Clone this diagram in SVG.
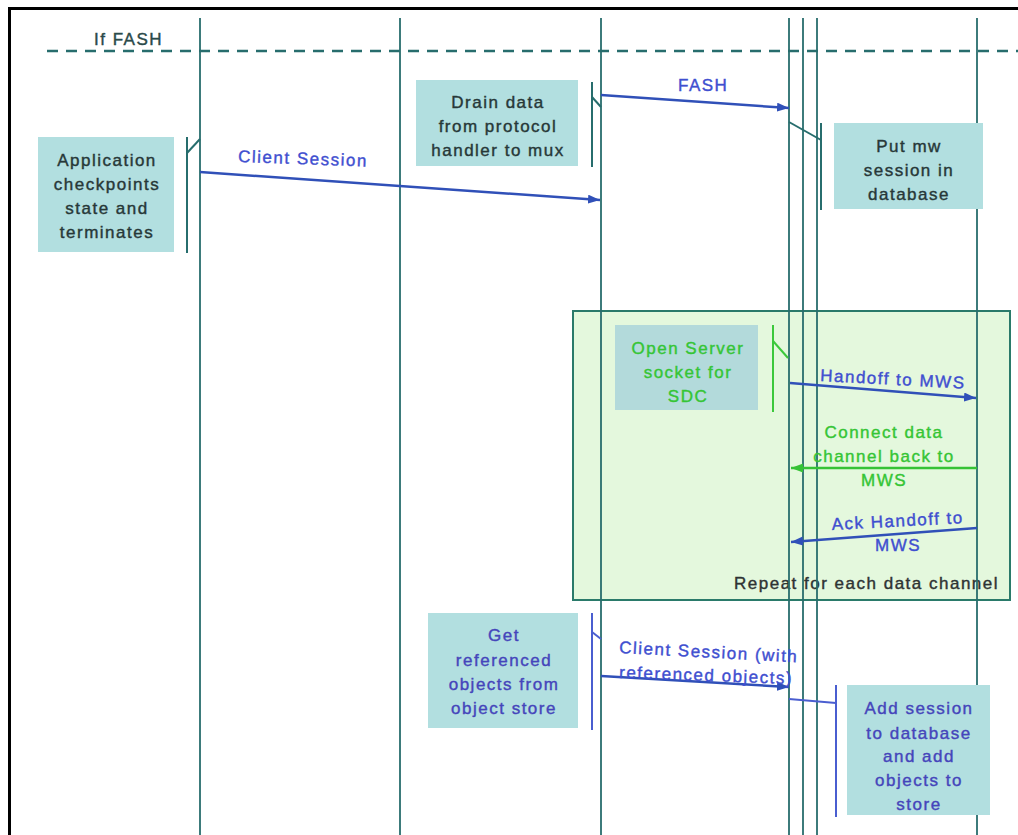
<svg xmlns="http://www.w3.org/2000/svg" width="1018" height="835" viewBox="0 0 1018 835">
  <style>
    .life { stroke: #276d6d; stroke-width: 1.8; fill: none; }
    .frame { stroke: #000; stroke-width: 3; fill: none; }
    .guard { stroke: #276d6d; stroke-width: 2.5; stroke-dasharray: 11 8; fill: none; }
    .box { fill: #b2dfe0; }
    .bar { stroke: #276d6d; stroke-width: 2; fill: none; }
    .bar-blue { stroke: #4a5ed0; stroke-width: 2; fill: none; }
    .bar-green { stroke: #3cc83c; stroke-width: 2; fill: none; }
    .msg { stroke: #3050b8; stroke-width: 2.5; fill: none; }
    .msg-green { stroke: #36c236; stroke-width: 2.5; fill: none; }
    text { font-family: "Liberation Sans", Arial, sans-serif; font-size: 17px; letter-spacing: 1.5px; stroke-width: 0.4; }
    .t-dark { fill: #273838; stroke: #273838; text-anchor: middle; }
    .t-blue { fill: #4545bb; stroke: #4545bb; text-anchor: middle; }
    .t-green { fill: #35c535; stroke: #35c535; text-anchor: middle; }
    .lbl { fill: #3f4fd0; stroke: #3f4fd0; }
  </style>
  <defs>
    <marker id="head" markerUnits="userSpaceOnUse" markerWidth="13" markerHeight="10" refX="12" refY="4.5" orient="auto">
      <path d="M0,0 L12,4.5 L0,9 z" fill="#3050b8"/>
    </marker>
    <marker id="head-green" markerUnits="userSpaceOnUse" markerWidth="13" markerHeight="10" refX="12" refY="4.5" orient="auto">
      <path d="M0,0 L12,4.5 L0,9 z" fill="#36c236"/>
    </marker>
  </defs>

  <rect width="1018" height="835" fill="#fff"/>

  <!-- outer page frame (top and left edges only fall inside the view) -->
  <path class="frame" d="M9.5,840 V8.5 H1020"/>

  <!-- repeat region -->
  <g id="repeat-loop">
    <rect x="573" y="311" width="437" height="289" fill="#e4f8dd" stroke="#2a7a6a" stroke-width="2"/>
    <text x="734" y="589" fill="#2e3333" stroke="#2e3333">Repeat for each data channel</text>
  </g>

  <!-- lifelines -->
  <g id="lifelines">
    <line class="life" x1="200" y1="18" x2="200" y2="835"/>
    <line class="life" x1="400" y1="18" x2="400" y2="835"/>
    <line class="life" x1="601" y1="18" x2="601" y2="835"/>
    <line class="life" x1="789" y1="18" x2="789" y2="835"/>
    <line class="life" x1="803" y1="18" x2="803" y2="835"/>
    <line class="life" x1="817" y1="18" x2="817" y2="835"/>
    <line class="life" x1="977" y1="18" x2="977" y2="835"/>
  </g>

  <!-- condition guard -->
  <g id="guard">
    <line class="guard" x1="47" y1="51" x2="1018" y2="51"/>
    <text x="94" y="45" fill="#2a4a4a" stroke="#2a4a4a">If FASH</text>
  </g>

  <!-- notes -->
  <g id="note-app">
    <rect class="box" x="38" y="137" width="136" height="115"/>
    <line class="bar" x1="187" y1="137" x2="187" y2="253"/>
    <line class="bar" x1="187" y1="153" x2="200" y2="139"/>
    <text class="t-dark" x="107" y="166">Application</text>
    <text class="t-dark" x="107" y="190">checkpoints</text>
    <text class="t-dark" x="107" y="214">state and</text>
    <text class="t-dark" x="107" y="238">terminates</text>
  </g>

  <g id="note-drain">
    <rect class="box" x="416" y="80" width="162" height="86"/>
    <line class="bar" x1="592" y1="82" x2="592" y2="167"/>
    <line class="bar" x1="592" y1="97" x2="601" y2="107"/>
    <text class="t-dark" x="498" y="108">Drain data</text>
    <text class="t-dark" x="498" y="132">from protocol</text>
    <text class="t-dark" x="498" y="156">handler to mux</text>
  </g>

  <g id="note-putmw">
    <rect class="box" x="834" y="123" width="149" height="86"/>
    <line class="bar" x1="821" y1="123" x2="821" y2="210"/>
    <line class="bar" x1="789" y1="122" x2="821" y2="140"/>
    <text class="t-dark" x="909" y="152">Put mw</text>
    <text class="t-dark" x="909" y="176">session in</text>
    <text class="t-dark" x="909" y="200">database</text>
  </g>

  <g id="note-open">
    <rect x="615" y="325" width="143" height="85" fill="#b3dadb"/>
    <line class="bar-green" x1="773" y1="325" x2="773" y2="412"/>
    <line class="bar-green" x1="773" y1="341" x2="788" y2="358"/>
    <text class="t-green" x="688" y="354">Open Server</text>
    <text class="t-green" x="688" y="378">socket for</text>
    <text class="t-green" x="688" y="402">SDC</text>
  </g>

  <g id="note-get">
    <rect class="box" x="428" y="613" width="150" height="115"/>
    <line class="bar-blue" x1="592" y1="613" x2="592" y2="730"/>
    <line class="bar-blue" x1="592" y1="632" x2="601" y2="639"/>
    <text class="t-blue" x="504" y="641">Get</text>
    <text class="t-blue" x="504" y="666">referenced</text>
    <text class="t-blue" x="504" y="690">objects from</text>
    <text class="t-blue" x="504" y="714">object store</text>
  </g>

  <g id="note-add">
    <rect class="box" x="847" y="685" width="143" height="130"/>
    <line class="bar-blue" x1="836" y1="685" x2="836" y2="817"/>
    <line class="bar-blue" x1="789" y1="699" x2="836" y2="703"/>
    <text class="t-blue" x="919" y="714">Add session</text>
    <text class="t-blue" x="919" y="739">to database</text>
    <text class="t-blue" x="919" y="762">and add</text>
    <text class="t-blue" x="919" y="786">objects to</text>
    <text class="t-blue" x="919" y="810">store</text>
  </g>

  <!-- messages -->
  <g id="messages">
    <line class="msg" x1="200" y1="172" x2="600" y2="200" marker-end="url(#head)"/>
    <text class="lbl" x="238" y="162" transform="rotate(2 238 162)">Client Session</text>

    <line class="msg" x1="601" y1="95" x2="789" y2="108" marker-end="url(#head)"/>
    <text class="lbl" x="678" y="91">FASH</text>

    <line class="msg" x1="790" y1="383" x2="976" y2="398" marker-end="url(#head)"/>
    <text class="lbl" x="820" y="381" transform="rotate(3 820 381)">Handoff to MWS</text>

    <line class="msg-green" x1="977" y1="468" x2="791" y2="468" marker-end="url(#head-green)"/>
    <text class="t-green" x="884" y="438">Connect data</text>
    <text class="t-green" x="884" y="462">channel back to</text>
    <text class="t-green" x="884" y="486">MWS</text>

    <line class="msg" x1="977" y1="528" x2="791" y2="542" marker-end="url(#head)"/>
    <text class="lbl" x="832" y="530" transform="rotate(-3 832 530)">Ack Handoff to</text>
    <text class="lbl" x="875" y="551">MWS</text>

    <line class="msg" x1="601" y1="676" x2="789" y2="687" marker-end="url(#head)"/>
    <text class="lbl" x="619" y="653" transform="rotate(3 619 653)">Client Session (with</text>
    <text class="lbl" x="619" y="678" transform="rotate(2 619 678)">referenced objects)</text>
  </g>
</svg>
